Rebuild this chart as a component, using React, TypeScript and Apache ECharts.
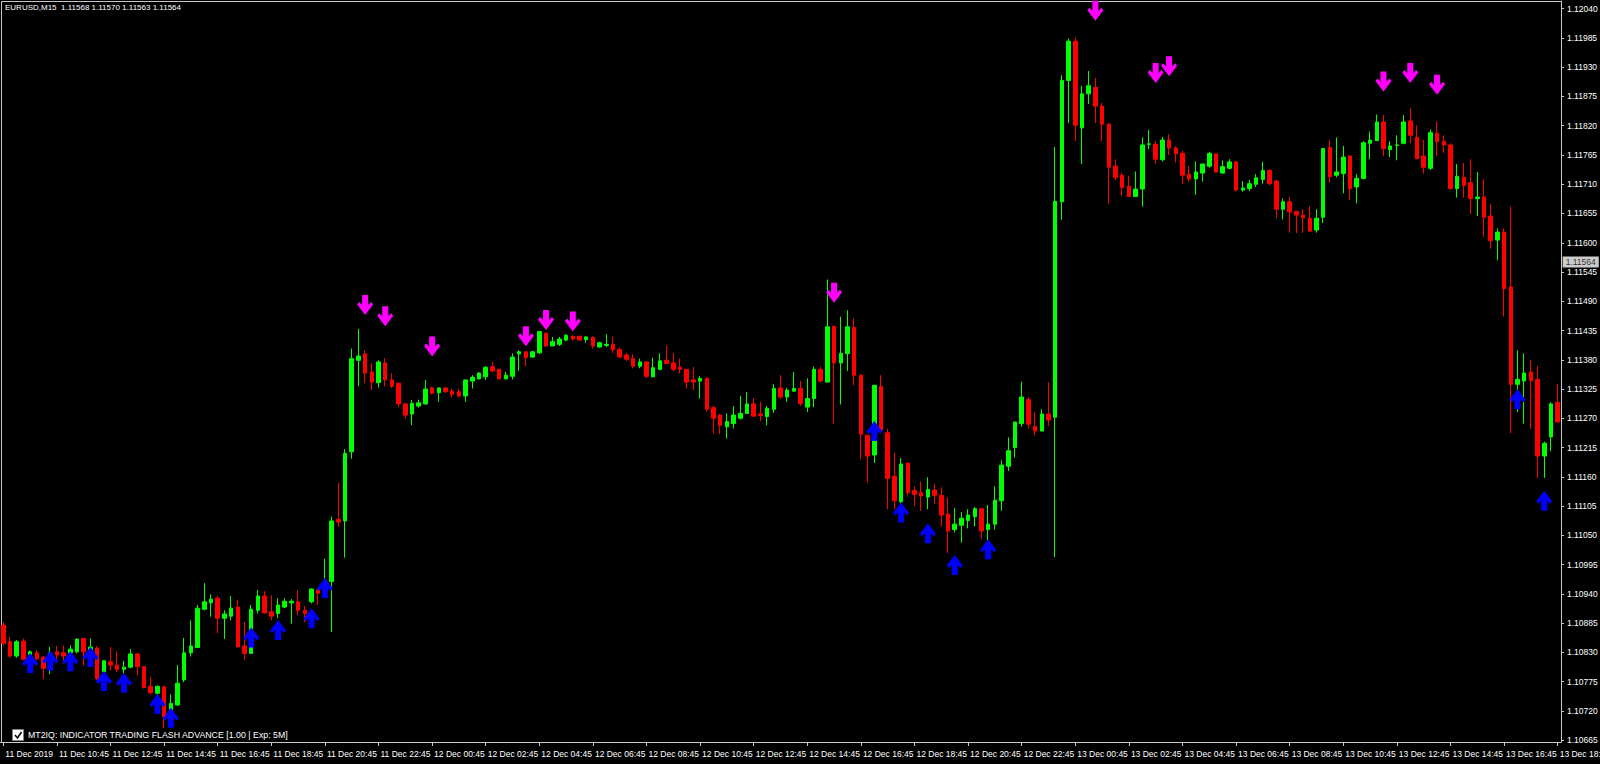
import React, { useEffect, useRef } from "react";
import * as echarts from "echarts";

const HEADER_TEXT = "EURUSD,M15  1.11568 1.11570 1.11563 1.11564";
const CURRENT_PRICE = 1.11564;
const INDICATOR_LABEL = "MT2IQ: INDICATOR TRADING FLASH ADVANCE [1.00 | Exp: 5M]";

const TICK_LABELS = [
  "11 Dec 2019", "11 Dec 10:45", "11 Dec 12:45", "11 Dec 14:45", "11 Dec 16:45", "11 Dec 18:45",
  "11 Dec 20:45", "11 Dec 22:45", "12 Dec 00:45", "12 Dec 02:45", "12 Dec 04:45", "12 Dec 06:45",
  "12 Dec 08:45", "12 Dec 10:45", "12 Dec 12:45", "12 Dec 14:45", "12 Dec 16:45", "12 Dec 18:45",
  "12 Dec 20:45", "12 Dec 22:45", "13 Dec 00:45", "13 Dec 02:45", "13 Dec 04:45", "13 Dec 06:45",
  "13 Dec 08:45", "13 Dec 10:45", "13 Dec 12:45", "13 Dec 14:45", "13 Dec 16:45", "13 Dec 18:45",
];
const BARS_PER_TICK = 8;

const Y_TICKS = [
  1.1204, 1.11985, 1.1193, 1.11875, 1.1182, 1.11765, 1.1171, 1.11655, 1.116, 1.11545, 1.1149, 1.11435,
  1.1138, 1.11325, 1.1127, 1.11215, 1.1116, 1.11105, 1.1105, 1.10995, 1.1094, 1.10885, 1.1083, 1.10775,
  1.1072, 1.10665,
];
const Y_MIN = 1.106614;
const Y_MAX = 1.120545;

const OPEN = [
  1.10881, 1.1085, 1.10823, 1.10851, 1.10825, 1.10829, 1.10821, 1.1082, 1.10831, 1.10829,
  1.10829, 1.10831, 1.10856, 1.10821, 1.10838, 1.10793, 1.10812, 1.10806, 1.10798, 1.10802,
  1.10827, 1.10803, 1.10766, 1.10753, 1.10765, 1.10721, 1.10731, 1.10778, 1.10829, 1.10839,
  1.10911, 1.10923, 1.10932, 1.10894, 1.10898, 1.10915, 1.10842, 1.10828, 1.10909, 1.10936,
  1.10906, 1.10903, 1.10915, 1.10923, 1.10925, 1.10909, 1.10925, 1.10947, 1.10941, 1.10963,
  1.1108, 1.11077, 1.11207, 1.11379, 1.11391, 1.11357, 1.11337, 1.11374, 1.11342, 1.11336,
  1.11297, 1.11278, 1.11293, 1.11297, 1.11327, 1.11318, 1.11327, 1.11321, 1.1132, 1.11312,
  1.1134, 1.11344, 1.11348, 1.11367, 1.11362, 1.11344, 1.11349, 1.11391, 1.11395, 1.11385,
  1.11393, 1.1143, 1.11406, 1.11409, 1.11417, 1.11424, 1.11424, 1.11418, 1.11422, 1.11404,
  1.11407, 1.11409, 1.11399, 1.11389, 1.11382, 1.11368, 1.11376, 1.11348, 1.11362, 1.11379,
  1.11374, 1.11366, 1.11362, 1.11342, 1.1134, 1.11345, 1.1129, 1.11276, 1.11254, 1.1126,
  1.1127, 1.11279, 1.11297, 1.11278, 1.11273, 1.11287, 1.11327, 1.1131, 1.11321, 1.11326,
  1.11291, 1.11307, 1.11362, 1.11338, 1.11443, 1.11374, 1.11392, 1.11441, 1.11351, 1.11238,
  1.11201, 1.1133, 1.11243, 1.11161, 1.11113, 1.11186, 1.11134, 1.1113, 1.11122, 1.11135,
  1.11125, 1.1109, 1.11061, 1.11069, 1.11078, 1.11085, 1.111, 1.11061, 1.11071, 1.11115,
  1.1118, 1.11215, 1.1126, 1.11305, 1.11255, 1.11246, 1.11278, 1.11272, 1.11677, 1.11905,
  1.11979, 1.11816, 1.1188, 1.11892, 1.11857, 1.11823, 1.11744, 1.11727, 1.11706, 1.11687,
  1.11701, 1.11785, 1.11785, 1.11756, 1.11793, 1.11778, 1.11768, 1.11729, 1.1172, 1.11731,
  1.11744, 1.11767, 1.11731, 1.1174, 1.11752, 1.11699, 1.11702, 1.1171, 1.11719, 1.11736,
  1.11716, 1.11663, 1.11677, 1.11659, 1.11652, 1.11646, 1.11624, 1.11648, 1.11779, 1.11727,
  1.1173, 1.11763, 1.11705, 1.11721, 1.11787, 1.11792, 1.11827, 1.11775, 1.11783, 1.11787,
  1.11829, 1.11798, 1.11763, 1.1174, 1.11806, 1.11791, 1.11784, 1.11702, 1.11723, 1.11713,
  1.11683, 1.11686, 1.1165, 1.11605, 1.1162, 1.11517, 1.11334, 1.1134, 1.11357, 1.11343,
  1.11199, 1.11235, 1.113,
];

const CLOSE = [
  1.10847, 1.10823, 1.1085, 1.10817, 1.10831, 1.10818, 1.108, 1.10829, 1.10825, 1.10823,
  1.10836, 1.10855, 1.10831, 1.1084, 1.10781, 1.10814, 1.10806, 1.10798, 1.10802, 1.10827,
  1.10803, 1.10764, 1.10754, 1.10766, 1.10709, 1.10734, 1.10772, 1.10829, 1.10842, 1.10913,
  1.10925, 1.1093, 1.10894, 1.10902, 1.10913, 1.1084, 1.10828, 1.10911, 1.10936, 1.10904,
  1.10898, 1.10919, 1.10926, 1.10926, 1.10909, 1.10903, 1.10949, 1.10941, 1.10956, 1.11077,
  1.11075, 1.11204, 1.11382, 1.11387, 1.11355, 1.11338, 1.11376, 1.11342, 1.1133, 1.11297,
  1.11276, 1.11298, 1.11299, 1.11325, 1.11317, 1.11327, 1.1132, 1.11315, 1.11312, 1.11342,
  1.11347, 1.11355, 1.11366, 1.11359, 1.11344, 1.11351, 1.11385, 1.11395, 1.11384, 1.11395,
  1.11433, 1.11406, 1.11414, 1.11419, 1.11426, 1.11419, 1.11417, 1.11423, 1.11406, 1.11412,
  1.11409, 1.11399, 1.11385, 1.11381, 1.11368, 1.11376, 1.11349, 1.11365, 1.11378, 1.11373,
  1.11362, 1.11362, 1.11338, 1.11338, 1.11345, 1.11287, 1.1127, 1.11257, 1.11264, 1.11276,
  1.11279, 1.11297, 1.11274, 1.11275, 1.11289, 1.11326, 1.1131, 1.11323, 1.11326, 1.11298,
  1.11307, 1.11362, 1.1134, 1.11442, 1.11374, 1.11392, 1.11442, 1.11351, 1.1124, 1.11199,
  1.11332, 1.11248, 1.11157, 1.11115, 1.11184, 1.1113, 1.11127, 1.11124, 1.11136, 1.11125,
  1.11088, 1.11058, 1.11071, 1.11082, 1.11088, 1.111, 1.11058, 1.11071, 1.11116, 1.11182,
  1.11209, 1.11263, 1.1131, 1.11259, 1.11246, 1.11278, 1.11267, 1.11678, 1.11905, 1.11979,
  1.11821, 1.1188, 1.11895, 1.11857, 1.11823, 1.11742, 1.11723, 1.11704, 1.11687, 1.11701,
  1.11784, 1.11786, 1.11757, 1.11793, 1.11778, 1.11767, 1.11727, 1.1172, 1.11733, 1.11748,
  1.11768, 1.11733, 1.11743, 1.11752, 1.11699, 1.11703, 1.11711, 1.11722, 1.11736, 1.11711,
  1.11663, 1.11677, 1.11658, 1.11652, 1.11647, 1.11622, 1.11646, 1.11777, 1.11724, 1.11733,
  1.11761, 1.11702, 1.11721, 1.11788, 1.11793, 1.11827, 1.11777, 1.11782, 1.11784, 1.11827,
  1.11802, 1.11758, 1.11742, 1.11807, 1.1179, 1.11784, 1.11702, 1.11725, 1.11708, 1.11683,
  1.11686, 1.11648, 1.11604, 1.1162, 1.11514, 1.11334, 1.11343, 1.11355, 1.11341, 1.11199,
  1.11223, 1.11297, 1.11263,
];

const HIGH = [
  1.10887, 1.10859, 1.10853, 1.10856, 1.10834, 1.10834, 1.10822, 1.1084, 1.10842, 1.10843,
  1.10843, 1.10856, 1.10856, 1.10856, 1.10842, 1.10815, 1.1084, 1.10832, 1.10814, 1.10836,
  1.10828, 1.10803, 1.10783, 1.10768, 1.10768, 1.10751, 1.10806, 1.10857, 1.1089, 1.10919,
  1.1096, 1.10939, 1.10936, 1.10909, 1.10936, 1.10929, 1.10887, 1.10919, 1.10947, 1.10945,
  1.10937, 1.10932, 1.10932, 1.1093, 1.10947, 1.10917, 1.1095, 1.1095, 1.11006, 1.11085,
  1.11149, 1.11212, 1.11401, 1.11438, 1.11398, 1.11374, 1.11379, 1.11383, 1.11355, 1.11336,
  1.11299, 1.11304, 1.11305, 1.11342, 1.11329, 1.11328, 1.11329, 1.11326, 1.11326, 1.11343,
  1.11351, 1.11357, 1.11368, 1.11376, 1.11362, 1.11357, 1.11392, 1.11398, 1.11395, 1.11397,
  1.11434, 1.11431, 1.11423, 1.11423, 1.11428, 1.11426, 1.11426, 1.11424, 1.11424, 1.11414,
  1.11428, 1.11423, 1.11403, 1.11393, 1.1139, 1.11382, 1.11376, 1.11384, 1.11392, 1.11407,
  1.11393, 1.11382, 1.11362, 1.11366, 1.11349, 1.11347, 1.11293, 1.11278, 1.11279, 1.11293,
  1.11312, 1.11319, 1.11308, 1.11301, 1.11293, 1.11334, 1.11351, 1.11327, 1.11357, 1.1134,
  1.11345, 1.11367, 1.11367, 1.11531, 1.11444, 1.11461, 1.11473, 1.11458, 1.11353, 1.11238,
  1.11332, 1.11351, 1.1125, 1.11205, 1.11195, 1.11186, 1.11142, 1.11151, 1.11159, 1.11146,
  1.1114, 1.11121, 1.11101, 1.11094, 1.11099, 1.11103, 1.111, 1.11107, 1.11142, 1.11191,
  1.11234, 1.11263, 1.11339, 1.1131, 1.11282, 1.11287, 1.11338, 1.1178, 1.11915, 1.11984,
  1.11986, 1.11895, 1.11923, 1.1191, 1.11863, 1.11825, 1.11757, 1.11732, 1.11726, 1.11734,
  1.11798, 1.11812, 1.11791, 1.11799, 1.11804, 1.11782, 1.11773, 1.11744, 1.11753, 1.11749,
  1.11771, 1.11768, 1.11755, 1.11757, 1.11754, 1.11716, 1.11718, 1.11729, 1.11752, 1.11738,
  1.11718, 1.11683, 1.11686, 1.11659, 1.11663, 1.11669, 1.11663, 1.11777, 1.11793, 1.11798,
  1.11782, 1.11765, 1.11729, 1.11791, 1.11809, 1.11841, 1.1184, 1.11791, 1.11802, 1.1184,
  1.11853, 1.11821, 1.11794, 1.11813, 1.11828, 1.11802, 1.11787, 1.11748, 1.1175, 1.11757,
  1.11733, 1.11719, 1.11673, 1.11627, 1.11627, 1.11668, 1.11398, 1.11392, 1.11379, 1.11368,
  1.11226, 1.113, 1.11334,
];

const LOW = [
  1.10843, 1.1082, 1.1082, 1.10815, 1.10821, 1.10815, 1.1078, 1.10789, 1.10817, 1.10809,
  1.10822, 1.10828, 1.10805, 1.10815, 1.10778, 1.10778, 1.10796, 1.10793, 1.1079, 1.108,
  1.10787, 1.10762, 1.10751, 1.1075, 1.10687, 1.10706, 1.10729, 1.10774, 1.10822, 1.10838,
  1.10909, 1.10897, 1.10866, 1.10855, 1.1089, 1.1084, 1.10815, 1.10828, 1.10903, 1.10903,
  1.1089, 1.10894, 1.10913, 1.10884, 1.109, 1.10887, 1.10922, 1.10919, 1.10938, 1.10868,
  1.11066, 1.11008, 1.11194, 1.1133, 1.11336, 1.11323, 1.11328, 1.1133, 1.11327, 1.11291,
  1.1127, 1.11257, 1.1129, 1.11295, 1.11315, 1.11301, 1.11318, 1.11309, 1.11309, 1.11301,
  1.11326, 1.11343, 1.11342, 1.11357, 1.11344, 1.11344, 1.11343, 1.11359, 1.11368, 1.11384,
  1.11391, 1.11404, 1.11406, 1.11406, 1.11415, 1.11416, 1.11416, 1.11412, 1.11401, 1.11403,
  1.11404, 1.11393, 1.11384, 1.11378, 1.11364, 1.11364, 1.11345, 1.11347, 1.1136, 1.11372,
  1.11359, 1.11354, 1.11326, 1.11323, 1.11307, 1.11282, 1.11241, 1.1124, 1.11232, 1.11251,
  1.11268, 1.11278, 1.11273, 1.11265, 1.11257, 1.1128, 1.11306, 1.11301, 1.1132, 1.11293,
  1.11282, 1.11291, 1.11338, 1.11338, 1.1126, 1.11296, 1.11359, 1.11332, 1.11193, 1.11149,
  1.11186, 1.11243, 1.11099, 1.11099, 1.1111, 1.11125, 1.11105, 1.11096, 1.11099, 1.11109,
  1.11067, 1.11017, 1.11055, 1.11036, 1.11063, 1.11067, 1.11044, 1.11041, 1.11061, 1.11096,
  1.11171, 1.11196, 1.11254, 1.11251, 1.11238, 1.11246, 1.11256, 1.11009, 1.11643, 1.11825,
  1.11791, 1.11748, 1.11861, 1.11825, 1.11791, 1.11673, 1.11718, 1.11688, 1.11687, 1.11687,
  1.11668, 1.11776, 1.11748, 1.11753, 1.11765, 1.11751, 1.1171, 1.11714, 1.1169, 1.11715,
  1.11741, 1.11733, 1.1173, 1.11738, 1.11696, 1.11696, 1.11697, 1.11705, 1.11711, 1.11708,
  1.11646, 1.11644, 1.11619, 1.11618, 1.11619, 1.1162, 1.11619, 1.11637, 1.11713, 1.11723,
  1.11693, 1.11681, 1.11674, 1.11719, 1.11757, 1.11792, 1.11763, 1.11761, 1.11755, 1.11785,
  1.11787, 1.11757, 1.1173, 1.11737, 1.11763, 1.11769, 1.117, 1.11685, 1.11685, 1.11654,
  1.1165, 1.11611, 1.11589, 1.11567, 1.11461, 1.11242, 1.11282, 1.1126, 1.1125, 1.11158,
  1.11158, 1.11208, 1.11263,
];

// [bar index, price] of the indicator's sell (down) and buy (up) arrows
const DOWN_ARROWS = [
  [54, 1.11483], [57, 1.11462], [64, 1.11405], [78, 1.11424], [81, 1.11455], [85, 1.11452],
  [124, 1.11506], [163, 1.12036], [172, 1.11919], [174, 1.11932], [206, 1.11903], [210, 1.11919],
  [214, 1.11897],
];
const UP_ARROWS = [
  [4, 1.1081], [7, 1.10814], [10, 1.10813], [13, 1.10821], [15, 1.10776], [18, 1.10773],
  [23, 1.10733], [25, 1.10707], [37, 1.10858], [41, 1.10872], [46, 1.10894], [48, 1.10951],
  [130, 1.11246], [134, 1.11093], [138, 1.11054], [142, 1.10994], [147, 1.11024],
  [226, 1.11306], [230, 1.11115],
];

const BULL = "#00FF00";
const BEAR = "#FF0000";
const SELL = "#FF00FF";
const BUY = "#0000FF";
const FRAME = "#C8C8C8";
const FONT = "'Liberation Sans', Arial, sans-serif";

const DOWN_PATH = "path://M5,0H11V10L14,7L16,9.5L8,20L0,9.5L2,7L5,10Z";
const UP_PATH = "path://M5,20H11V10L14,13L16,10.5L8,0L0,10.5L2,13L5,10Z";

export default function App() {
  const ref = useRef<HTMLDivElement>(null);

  useEffect(() => {
    if (!ref.current) return;
    const chart = echarts.init(ref.current, null, { renderer: "svg" });
    const categories = OPEN.map((_, i) => String(i));
    const candles = OPEN.map((o, i) => [o, CLOSE[i], LOW[i], HIGH[i]]);
    const showTick = (i: number) => i % BARS_PER_TICK === 0;
    const lastIndex = OPEN.length - 1;

    chart.setOption({
      animation: false,
      backgroundColor: "#000000",
      textStyle: { fontFamily: FONT },
      grid: { left: 0, top: 1, width: 1561, height: 741, containLabel: false, outerBoundsMode: "none" },
      xAxis: {
        type: "category",
        data: categories,
        boundaryGap: true,
        axisLine: { show: true, lineStyle: { color: FRAME, width: 1 } },
        axisTick: { show: true, interval: (i: number) => showTick(i), alignWithLabel: true, length: 4, lineStyle: { color: FRAME } },
        axisLabel: {
          interval: (i: number) => showTick(i),
          formatter: (_v: string, i: number) => TICK_LABELS[Math.floor(i / BARS_PER_TICK)] ?? "",
          color: "#FFFFFF",
          fontSize: 8.5,
          fontFamily: FONT,
          align: "left",
          margin: 7,
          padding: [0, 0, 0, 2],
        },
        splitLine: { show: false },
      },
      yAxis: {
        type: "value",
        position: "right",
        min: Y_MIN,
        max: Y_MAX,
        scale: true,
        axisLine: { show: true, lineStyle: { color: FRAME, width: 1 } },
        axisTick: { show: true, customValues: Y_TICKS, length: 3, lineStyle: { color: FRAME } },
        axisLabel: {
          customValues: Y_TICKS,
          formatter: (v: number) => v.toFixed(5),
          color: "#FFFFFF",
          fontSize: 8.5,
          fontFamily: FONT,
          margin: 6,
        },
        splitLine: { show: false },
      },
      series: [
        {
          type: "candlestick",
          data: candles,
          barWidth: 4,
          itemStyle: {
            color: BULL,
            color0: BEAR,
            borderColor: BULL,
            borderColor0: BEAR,
            borderWidth: 1,
          },
          silent: true,
        },
        {
          type: "scatter",
          data: DOWN_ARROWS,
          symbol: DOWN_PATH,
          symbolSize: [16, 20],
          itemStyle: { color: SELL, opacity: 1 },
          silent: true,
          z: 5,
        },
        {
          type: "scatter",
          data: UP_ARROWS,
          symbol: UP_PATH,
          symbolSize: [16, 20],
          itemStyle: { color: BUY, opacity: 1 },
          silent: true,
          z: 5,
        },
        {
          // current bid price box on the price scale
          type: "scatter",
          data: [[lastIndex, CURRENT_PRICE]],
          symbolSize: 0,
          clip: false,
          silent: true,
          z: 6,
          label: {
            show: true,
            position: "right",
            distance: 5,
            formatter: () => CURRENT_PRICE.toFixed(5),
            backgroundColor: "#FFFFFF",
            color: "#000000",
            fontSize: 8.5,
            fontFamily: FONT,
            padding: [1, 3, 1, 3],
          },
        },
      ],
      graphic: [
        {
          type: "polyline",
          shape: { points: [[1.5, 742], [1.5, 1.5], [1561, 1.5]] },
          style: { stroke: FRAME, lineWidth: 1, fill: "none" },
          silent: true,
        },
        {
          type: "text",
          left: 5,
          top: 3,
          style: { text: HEADER_TEXT, fill: "#FFFFFF", fontSize: 8, fontFamily: FONT },
          silent: true,
        },
        {
          type: "rect",
          shape: { x: 12.5, y: 729.5, width: 11, height: 11 },
          style: { fill: "#FFFFFF", stroke: "#808080", lineWidth: 1 },
          silent: true,
        },
        {
          type: "polyline",
          shape: { points: [[15, 735], [17.5, 738], [21.5, 732]] },
          style: { stroke: "#000000", lineWidth: 1.6, fill: "none" },
          silent: true,
        },
        {
          type: "text",
          left: 28,
          top: 730,
          style: { text: INDICATOR_LABEL, fill: "#FFFFFF", fontSize: 8.8, fontFamily: FONT },
          silent: true,
        },
      ],
    });

    return () => chart.dispose();
  }, []);

  return (
    <div
      style={{
        position: "fixed",
        left: 0,
        top: 0,
        width: 1600,
        height: 764,
        background: "#000000",
        overflow: "hidden",
      }}
    >
      <div ref={ref} style={{ width: 1600, height: 764 }} />
    </div>
  );
}
